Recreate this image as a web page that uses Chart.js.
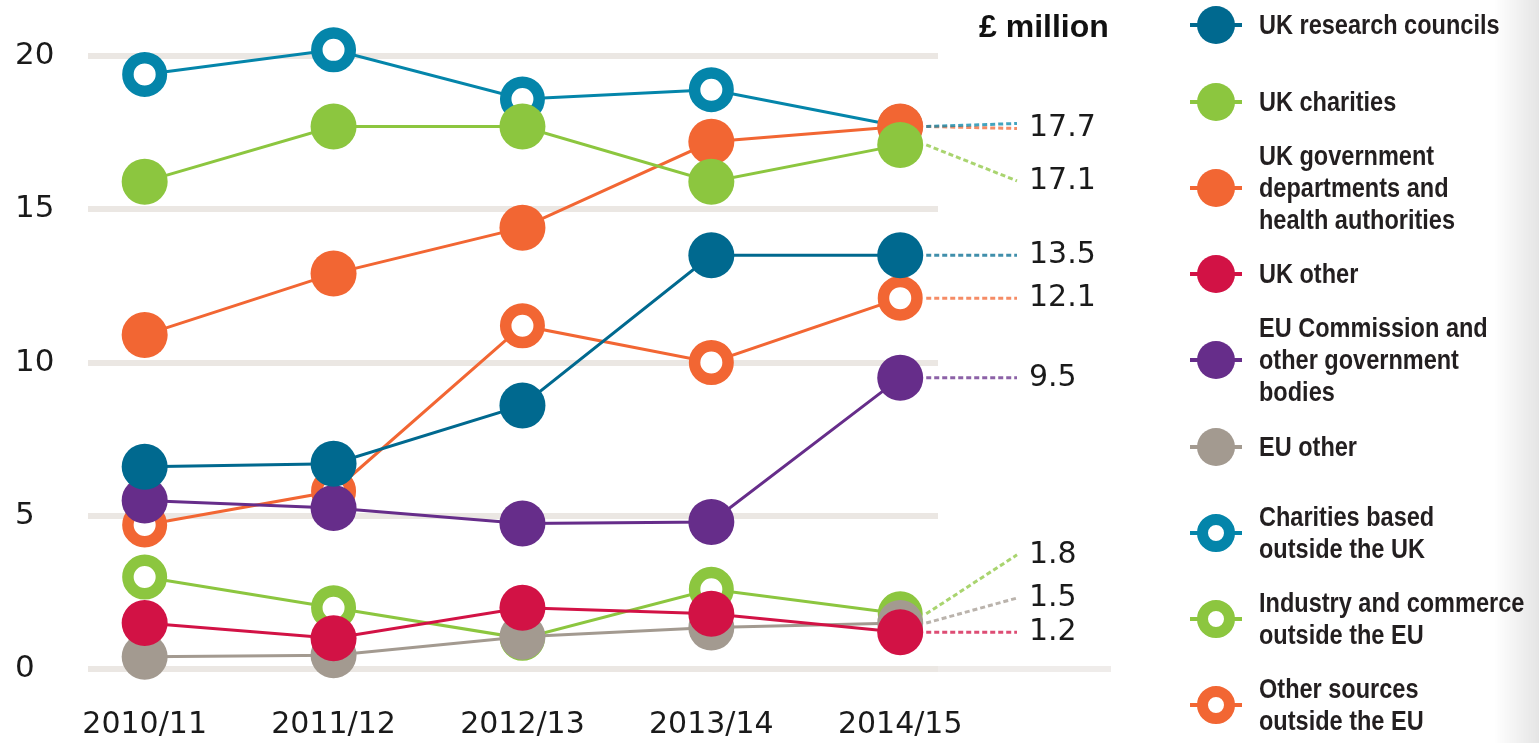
<!DOCTYPE html>
<html>
<head>
<meta charset="utf-8">
<script src="https://cdn.jsdelivr.net/npm/chart.js@4.4.1/dist/chart.umd.min.js"></script>
<style>
  html, body { margin: 0; padding: 0; background: #fff; }
  body { width: 1539px; height: 743px; position: relative; overflow: hidden; }
  #chart { position: absolute; left: 0; top: 0; }
  .unit {
    position: absolute; left: 979px; top: 8px;
    font: bold 32px "Liberation Sans", Arial, sans-serif; color: #111;
  }
  .legend-item { position: absolute; left: 1190px; transform: translateY(-50%); display: flex; align-items: center; }
  .marker { position: relative; width: 52px; height: 40px; flex: none; }
  .marker .stub { position: absolute; left: 0; right: 0; top: 18px; height: 4px; }
  .marker .dot { position: absolute; left: 7px; top: 1px; width: 38px; height: 38px; border-radius: 50%; box-sizing: border-box; }
  .legend-text {
    margin-left: 17px; white-space: pre; line-height: 32px;
    font: bold 28px "Liberation Sans", Arial, sans-serif; color: #231f20;
    transform: scaleX(0.84); transform-origin: left center;
  }
  .edge { position: absolute; right: 0; top: 0; width: 45px; height: 743px;
    background: linear-gradient(to right, rgba(0,0,0,0), rgba(0,0,0,0.1)); }
</style>
</head>
<body>
<canvas id="chart" width="1539" height="743"></canvas>
<div class="unit">£ million</div>
<div id="legend"></div>
<div class="edge"></div>
<script>
// Data
const categories = ['2010/11', '2011/12', '2012/13', '2013/14', '2014/15'];
const seriesNames = [
    'UK research councils',
    'UK charities',
    'UK government\ndepartments and\nhealth authorities',
    'UK other',
    'EU Commission and\nother government\nbodies',
    'EU other',
    'Charities based\noutside the UK',
    'Industry and commerce\noutside the EU',
    'Other sources\noutside the EU'
];
const ukResearchCouncils = [6.6, 6.7, 8.6, 13.5, 13.5];
const ukCharities = [15.9, 17.7, 17.7, 15.9, 17.1];
const ukGovernment = [10.9, 12.9, 14.4, 17.2, 17.7];
const ukOther = [1.5, 1.0, 2.0, 1.8, 1.2];
const euCommission = [5.5, 5.25, 4.75, 4.8, 9.5];
const euOther = [0.4, 0.45, 1.05, 1.35, 1.5];
const charitiesOutsideUk = [19.4, 20.2, 18.6, 18.9, 17.7];
const industryOutsideEu = [3.0, 2.0, 1.0, 2.6, 1.8];
const otherOutsideEu = [4.7, 5.8, 11.2, 10.0, 12.1];
const yTicks = [0, 5, 10, 15, 20];

const seriesValues = [ukResearchCouncils, ukCharities, ukGovernment, ukOther, euCommission,
    euOther, charitiesOutsideUk, industryOutsideEu, otherOutsideEu];

// Styles
const colours = ['#00698f', '#8cc63f', '#f26633', '#d21245', '#662d8a', '#a39a90', '#0485aa', '#8cc63f', '#f26633'];
const hollow = [false, false, false, false, false, false, true, true, true];
const drawOrder = [0, 1, 4, 2, 3, 5, 6, 7, 8]; // lower is drawn on top
const labelOffset = [0, 36, 2, 0, 0, -25, -3, -59, 0]; // px from last point to its value label
const legendTop = [25, 102, 188, 274, 360, 447, 533, 619, 705];

const datasets = seriesValues.map((values, i) => ({
    label: seriesNames[i],
    data: values.map((v, j) => ({ x: j, y: v })),
    borderColor: colours[i],
    borderWidth: 3,
    pointRadius: hollow[i] ? 16.75 : 23,
    pointBorderWidth: hollow[i] ? 11.5 : 0,
    pointBackgroundColor: hollow[i] ? '#fff' : colours[i],
    pointBorderColor: colours[i],
    order: drawOrder[i],
    clip: false,
    tension: 0
}));

// Zero line extension, leader lines and end values
const endLabels = {
    id: 'endLabels',
    beforeDatasetsDraw(chart) {
        const ctx = chart.ctx;
        const y0 = chart.scales.y.getPixelForValue(0);
        ctx.save();
        ctx.strokeStyle = '#efecea';
        ctx.lineWidth = 6;
        ctx.beginPath();
        ctx.moveTo(chart.chartArea.right, y0);
        ctx.lineTo(1111, y0);
        ctx.stroke();
        ctx.restore();
    },
    afterDatasetsDraw(chart) {
        const ctx = chart.ctx;
        const done = {};
        ctx.save();
        seriesValues.forEach((values, i) => {
            const last = values.length - 1;
            const px = chart.scales.x.getPixelForValue(last);
            const py = chart.scales.y.getPixelForValue(values[last]);
            const ly = py + labelOffset[i];
            ctx.strokeStyle = colours[i];
            ctx.globalAlpha = 0.75;
            ctx.lineWidth = 3;
            ctx.setLineDash([5, 3]);
            ctx.beginPath();
            ctx.moveTo(px + 26, py);
            ctx.lineTo(1017, ly);
            ctx.stroke();
            ctx.globalAlpha = 1;
            const text = values[last].toFixed(1);
            if (!done[text]) {
                done[text] = true;
                ctx.setLineDash([]);
                ctx.fillStyle = '#1a1a1a';
                ctx.font = '30px "DejaVu Sans", sans-serif';
                ctx.textAlign = 'left';
                ctx.textBaseline = 'middle';
                ctx.fillText(text, 1029, ly);
            }
        });
        ctx.restore();
    }
};

new Chart(document.getElementById('chart'), {
    type: 'line',
    data: { datasets: datasets },
    options: {
        responsive: false,
        animation: false,
        layout: { padding: { left: 15, top: 56, right: 601, bottom: 0 } },
        plugins: { legend: { display: false }, tooltip: { enabled: false } },
        scales: {
            x: {
                type: 'linear',
                min: -0.3,
                max: 4.2,
                afterBuildTicks: scale => { scale.ticks = categories.map((c, i) => ({ value: i })); },
                afterFit: scale => { scale.height = 74; },
                grid: { display: false, drawTicks: false },
                border: { display: false },
                ticks: {
                    callback: value => categories[value],
                    autoSkip: false,
                    maxRotation: 0,
                    padding: 38,
                    color: '#1a1a1a',
                    font: { family: 'DejaVu Sans', size: 30 }
                }
            },
            y: {
                min: 0,
                max: 20,
                afterBuildTicks: scale => { scale.ticks = yTicks.map(v => ({ value: v })); },
                afterFit: scale => { scale.width = 73; },
                grid: { color: '#ebe7e3', lineWidth: 6, drawTicks: false },
                border: { display: false },
                ticks: {
                    crossAlign: 'far',
                    padding: 0,
                    color: '#1a1a1a',
                    font: { family: 'DejaVu Sans', size: 31 }
                }
            }
        }
    },
    plugins: [endLabels]
});

// Legend
const legend = document.getElementById('legend');
seriesNames.forEach((name, i) => {
    const item = document.createElement('div');
    item.className = 'legend-item';
    item.style.top = legendTop[i] + 'px';
    const dotStyle = hollow[i]
        ? 'background:#fff;border:11px solid ' + colours[i]
        : 'background:' + colours[i];
    item.innerHTML = '<div class="marker"><div class="stub" style="background:' + colours[i] + '"></div>' +
        '<div class="dot" style="' + dotStyle + '"></div></div>' +
        '<div class="legend-text"></div>';
    item.querySelector('.legend-text').textContent = name;
    legend.appendChild(item);
});
</script>
</body>
</html>
